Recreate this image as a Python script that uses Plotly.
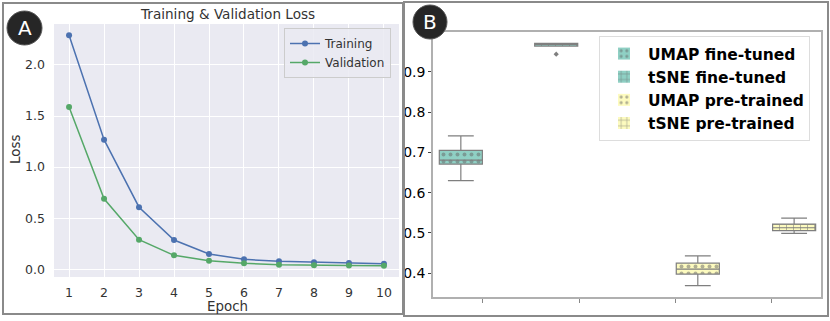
import plotly.graph_objects as go

W, H = 830, 321

# ---------- Panel A data ----------
epochs = [1, 2, 3, 4, 5, 6, 7, 8, 9, 10]
train_loss = [2.29, 1.268, 0.608, 0.287, 0.15, 0.098, 0.078, 0.069, 0.062, 0.055]
val_loss = [1.588, 0.69, 0.29, 0.137, 0.085, 0.059, 0.045, 0.039, 0.037, 0.035]

# ---------- Panel B data ----------
methods = ["UMAP fine-tuned", "tSNE fine-tuned", "UMAP pre-trained", "tSNE pre-trained"]
positions = [-0.23, 0.76, 2.23, 3.23]
q1 = [0.671, 0.964, 0.398, 0.506]
median = [0.681, 0.968, 0.410, 0.513]
q3 = [0.705, 0.971, 0.425, 0.522]
lower = [0.630, 0.964, 0.369, 0.499]
upper = [0.741, 0.971, 0.443, 0.537]
outlier_x = [0.76]
outlier_y = [0.944]
fills = ["#8fd0c4", "#8fd0c4", "#fdfbbf", "#fdfbbf"]
patterns = [".", "+", ".", "+"]


def fx(p):
    return p / W


def fy(p):
    return 1 - p / H


fig = go.Figure()

# Panel A lines
fig.add_trace(go.Scatter(x=epochs, y=train_loss, mode="lines+markers", name="Training",
                         line=dict(color="#4C72B0", width=1.5), marker=dict(size=6, color="#4C72B0"),
                         xaxis="x", yaxis="y", legend="legend"))
fig.add_trace(go.Scatter(x=epochs, y=val_loss, mode="lines+markers", name="Validation",
                         line=dict(color="#55A868", width=1.5), marker=dict(size=6, color="#55A868"),
                         xaxis="x", yaxis="y", legend="legend"))

# Panel B boxes: patterned bars for the IQR, box traces for whiskers/median
bw = 0.447
for i, m in enumerate(methods):
    fig.add_trace(go.Bar(x=[positions[i]], y=[q3[i] - q1[i]], base=[q1[i]], width=bw, name=m,
                         marker=dict(color=fills[i], line=dict(width=0),
                                     pattern=dict(shape=patterns[i], fgcolor="#666666", bgcolor=fills[i],
                                                  size=7, solidity=0.25)),
                         xaxis="x2", yaxis="y2", legend="legend2", showlegend=True, hoverinfo="skip"))
for i, m in enumerate(methods):
    fig.add_trace(go.Box(x=[positions[i]], q1=[q1[i]], median=[median[i]], q3=[q3[i]],
                         lowerfence=[lower[i]], upperfence=[upper[i]], width=bw, whiskerwidth=0.6,
                         fillcolor="rgba(0,0,0,0)", line=dict(color="#7f7f7f", width=1.2),
                         boxpoints=False, showlegend=False, xaxis="x2", yaxis="y2", name=m))
fig.add_trace(go.Scatter(x=outlier_x, y=outlier_y, mode="markers", showlegend=False,
                         marker=dict(symbol="diamond", size=4, color="#7f7f7f"), xaxis="x2", yaxis="y2"))

font_dv = "DejaVu Sans"

shapes = [
    # panel A background
    dict(type="rect", xref="x domain", yref="y domain", x0=0, x1=1, y0=0, y1=1,
         fillcolor="#EAEAF2", line=dict(width=0), layer="below"),
    # panel frames
    dict(type="rect", xref="paper", yref="paper", x0=fx(3), x1=fx(403), y0=fy(314), y1=fy(3),
         line=dict(color="#8a8a8a", width=2)),
    dict(type="rect", xref="paper", yref="paper", x0=fx(404), x1=fx(828), y0=fy(316), y1=fy(2),
         line=dict(color="#8a8a8a", width=2)),
    # badges
    dict(type="circle", xref="paper", yref="paper", x0=fx(7), x1=fx(42), y0=fy(45), y1=fy(11),
         fillcolor="#262626", line=dict(color="#555555", width=1)),
    dict(type="circle", xref="paper", yref="paper", x0=fx(413), x1=fx(447), y0=fy(39), y1=fy(5),
         fillcolor="#262626", line=dict(color="#555555", width=1)),
]


def ann(text, x, y, size, color="#333333", angle=0):
    return dict(text=text, x=fx(x), y=fy(y), xref="paper", yref="paper", showarrow=False,
                xanchor="center", yanchor="middle", textangle=angle,
                font=dict(family=font_dv, size=size, color=color))


annotations = [
    ann("Training & Validation Loss", 227, 14, 13.6),
    ann("Epoch", 227, 306, 13.4),
    ann("Loss", 15, 150, 13.4, angle=-90),
    ann("A", 24.5, 28, 20, color="white"),
    ann("B", 430, 22, 20, color="white"),
]

fig.update_layout(
    width=W, height=H, margin=dict(l=0, r=0, t=0, b=0, pad=0, autoexpand=False),
    paper_bgcolor="white", plot_bgcolor="white",
    barmode="overlay", boxmode="overlay",
    font=dict(family=font_dv, color="#333333"),
    xaxis=dict(domain=[fx(54), fx(399)], range=[0.57, 10.43], tickvals=epochs, automargin=False,
               showgrid=True, gridcolor="white", gridwidth=1.2, zeroline=False, showline=False,
               ticks="", ticklabelstandoff=6, tickfont=dict(size=12.5, color="#333333"), anchor="y"),
    yaxis=dict(domain=[fy(277), fy(24)], range=[-0.075, 2.40], tickvals=[0, 0.5, 1.0, 1.5, 2.0],
               tickformat=".1f", showgrid=True, gridcolor="white", gridwidth=1.2, zeroline=False,
               showline=False, ticks="", ticklabelstandoff=8, tickfont=dict(size=12.5, color="#333333"),
               anchor="x", automargin=False),
    xaxis2=dict(domain=[fx(433), fx(821)], range=[-0.519, 3.509], tickvals=[0, 1, 2, 3],
                showticklabels=False, ticks="outside", ticklen=4, tickcolor="#888888",
                showgrid=False, zeroline=False, showline=True, linecolor="#b0b0b0", linewidth=1.5,
                mirror=True, anchor="y2", automargin=False),
    yaxis2=dict(domain=[fy(297), fy(32)], range=[0.341, 0.999], tickvals=[0.4, 0.5, 0.6, 0.7, 0.8, 0.9],
                tickformat=".1f", ticks="outside", ticklen=3, tickcolor="#444444",
                tickfont=dict(size=14, color="black"), showgrid=False, zeroline=False,
                showline=True, linecolor="#b0b0b0", linewidth=1.5, mirror=True, anchor="x2",
                automargin=False),
    legend=dict(x=fx(284), y=fy(28), xanchor="left", yanchor="top", bgcolor="rgba(234,234,242,0.85)",
                bordercolor="#cccccc", borderwidth=1, font=dict(family=font_dv, size=12, color="#333333")),
    legend2=dict(x=fx(599), y=fy(36), xanchor="left", yanchor="top", bgcolor="white",
                 bordercolor="#dddddd", borderwidth=1, itemwidth=38,
                 font=dict(family=font_dv, size=15.5, color="black", weight="bold")),
    shapes=shapes, annotations=annotations,
)

fig.write_html("out.html", config={"displayModeBar": False},
               post_script="document.body.style.margin='0';document.body.style.overflow='hidden';")
